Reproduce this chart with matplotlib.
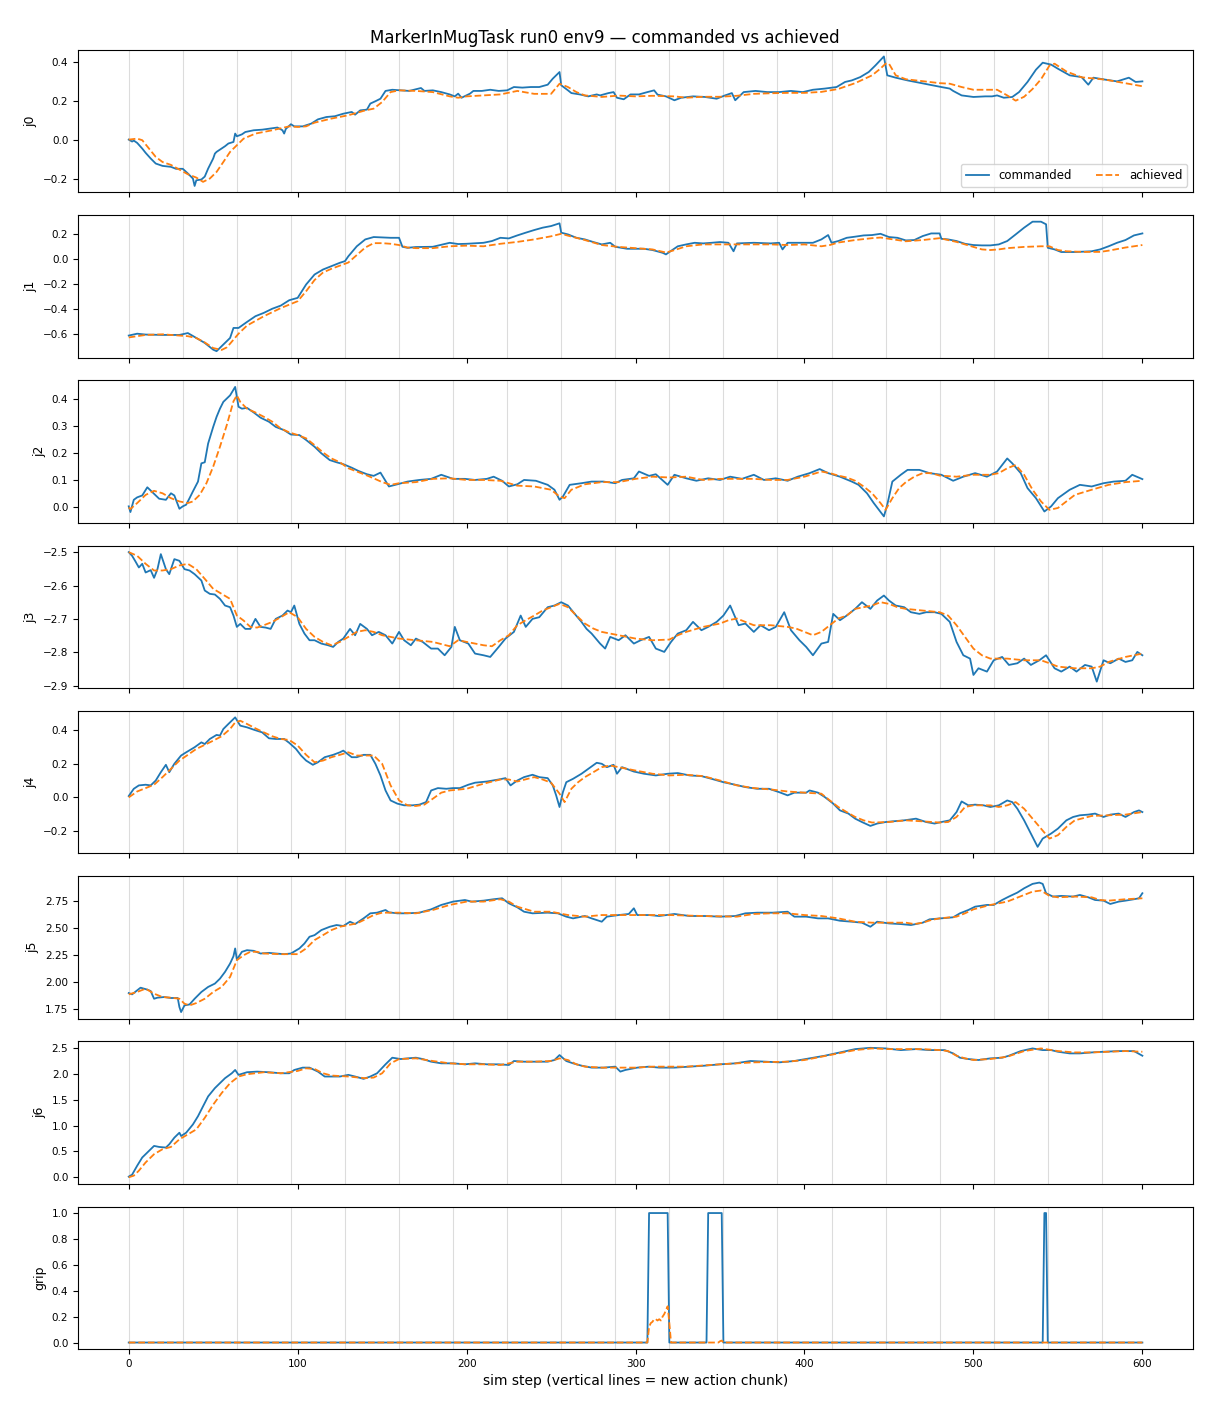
import matplotlib
matplotlib.use("Agg")
import matplotlib.pyplot as plt

# ---------------- data (step, value) ----------------
j0_cmd = [(0,0.0),(2,-0.01),(3,-0.005),(5,-0.017),(8,-0.046),(10,-0.068),(13,-0.097),(16,-0.123),
          (20,-0.135),(25,-0.14),(28,-0.15),(32,-0.15),(35,-0.174),(38,-0.2),(39,-0.238),(40,-0.209),
          (43,-0.205),(45,-0.19),(47,-0.149),(50,-0.097),(51,-0.072),(52,-0.063),(55,-0.046),(57,-0.034),
          (59,-0.02),(62,-0.012),(63,0.031),(64,0.017),(67,0.027),(69,0.039),(74,0.048),(79,0.051),
          (83,0.056),(88,0.062),(91,0.048),(92,0.031),(93,0.055),(96,0.079),(98,0.068),(103,0.068),
          (108,0.082),(112,0.104),(117,0.116),(122,0.12),(127,0.133),(132,0.142),(134,0.128),(137,0.15),
          (141,0.154),(143,0.185),(146,0.197),(149,0.21),(152,0.25),(156,0.256),(161,0.253),(166,0.25),
          (173,0.265),(175,0.25),(180,0.253),(185,0.244),(190,0.232),(193,0.222),(195,0.236),(197,0.215),
          (202,0.236),(204,0.25),(209,0.25),(214,0.256),(219,0.25),(224,0.253),(228,0.27),(233,0.267),
          (238,0.27),(243,0.27),(248,0.282),(251,0.313),(255,0.347),(256,0.279),(260,0.253),(262,0.239),
          (267,0.232),(272,0.222),(277,0.232),(279,0.227),(284,0.239),(287,0.244),(289,0.215),(293,0.207),
          (297,0.232),(302,0.232),(307,0.244),(311,0.253),(313,0.231),(318,0.222),(323,0.202),(327,0.215),
          (334,0.222),(341,0.219),(348,0.21),(353,0.227),(357,0.239),(359,0.202),(364,0.244),(371,0.25),
          (378,0.244),(385,0.244),(392,0.25),(399,0.244),(405,0.256),(412,0.262),(419,0.27),(424,0.296),
          (428,0.304),(433,0.321),(438,0.347),(442,0.381),(447,0.427),(449,0.33),(454,0.318),(461,0.304),
          (468,0.292),(474,0.282),(481,0.27),(486,0.262),(488,0.25),(493,0.227),(500,0.219),(507,0.222),
          (511,0.222),(514,0.227),(518,0.215),(523,0.219),(527,0.244),(532,0.296),(537,0.359),(541,0.395),
          (546,0.385),(550,0.364),(557,0.33),(564,0.321),(568,0.282),(571,0.318),(578,0.308),(585,0.299),
          (592,0.318),(596,0.296),(600,0.299)]
j0_ach = [(0,0.0),(5,0.005),(8,-0.003),(12,-0.046),(16,-0.089),(20,-0.115),(25,-0.13),(30,-0.154),
          (35,-0.178),(40,-0.195),(44,-0.217),(48,-0.2),(52,-0.166),(56,-0.115),(60,-0.063),(64,-0.029),
          (68,0.005),(75,0.031),(85,0.048),(95,0.068),(100,0.065),(105,0.068),(110,0.087),(120,0.108),
          (130,0.125),(140,0.15),(145,0.159),(150,0.193),(155,0.244),(160,0.253),(170,0.25),(180,0.244),
          (190,0.222),(195,0.215),(200,0.222),(210,0.227),(220,0.232),(230,0.25),(240,0.235),(250,0.235),
          (255,0.287),(260,0.27),(265,0.244),(270,0.227),(280,0.219),(290,0.226),(300,0.222),(310,0.225),
          (323,0.222),(330,0.215),(340,0.22),(350,0.22),(360,0.225),(370,0.235),(380,0.238),(390,0.24),
          (400,0.24),(410,0.245),(420,0.26),(430,0.29),(440,0.33),(445,0.365),(448,0.39),(450,0.39),
          (454,0.33),(460,0.31),(470,0.30),(480,0.29),(486,0.287),(493,0.27),(500,0.256),(514,0.256),
          (520,0.227),(525,0.20),(530,0.22),(535,0.26),(540,0.31),(545,0.38),(548,0.39),(555,0.35),
          (564,0.32),(578,0.308),(600,0.274)]

j1_cmd = [(0,-0.615),(5,-0.6),(10,-0.607),(20,-0.61),(30,-0.61),(35,-0.595),(40,-0.634),(45,-0.674),
          (50,-0.728),(52,-0.74),(55,-0.70),(60,-0.634),(62,-0.554),(65,-0.554),(70,-0.506),(75,-0.46),
          (80,-0.433),(85,-0.40),(90,-0.375),(95,-0.332),(100,-0.313),(105,-0.206),(110,-0.126),
          (115,-0.086),(120,-0.059),(125,-0.032),(128,-0.019),(130,0.02),(135,0.10),(140,0.155),
          (145,0.174),(150,0.171),(155,0.168),(160,0.168),(162,0.096),(165,0.088),(170,0.094),(180,0.096),
          (190,0.128),(195,0.118),(200,0.12),(210,0.128),(215,0.142),(220,0.168),(225,0.163),(230,0.187),
          (235,0.209),(240,0.23),(245,0.249),(250,0.262),(255,0.284),(256,0.209),(260,0.195),(265,0.168),
          (270,0.155),(275,0.134),(280,0.115),(285,0.128),(288,0.096),(295,0.08),(305,0.08),(310,0.07),
          (316,0.048),(318,0.035),(320,0.054),(325,0.10),(330,0.115),(335,0.128),(340,0.123),(345,0.128),
          (350,0.134),(355,0.128),(358,0.06),(360,0.123),(370,0.128),(380,0.123),(385,0.128),(387,0.075),
          (390,0.128),(400,0.128),(405,0.128),(410,0.155),(414,0.19),(416,0.128),(420,0.142),(425,0.168),
          (430,0.177),(435,0.187),(440,0.19),(445,0.20),(450,0.174),(455,0.168),(460,0.147),(465,0.15),
          (470,0.182),(475,0.203),(480,0.203),(481,0.16),(485,0.155),(490,0.142),(495,0.12),(500,0.11),
          (505,0.107),(510,0.107),(515,0.115),(520,0.142),(525,0.195),(530,0.249),(535,0.297),(540,0.297),
          (543,0.276),(544,0.088),(548,0.075),(552,0.054),(560,0.054),(570,0.06),(575,0.075),(580,0.10),
          (585,0.128),(590,0.15),(595,0.187),(600,0.203)]
j1_ach = [(0,-0.63),(10,-0.61),(20,-0.605),(30,-0.615),(35,-0.62),(40,-0.635),(45,-0.67),(50,-0.715),
          (55,-0.73),(58,-0.71),(60,-0.68),(65,-0.6),(70,-0.535),(80,-0.46),(90,-0.395),(100,-0.34),
          (105,-0.26),(110,-0.17),(115,-0.11),(120,-0.08),(125,-0.055),(130,-0.03),(135,0.03),(140,0.09),
          (145,0.125),(150,0.125),(155,0.12),(160,0.11),(165,0.09),(170,0.085),(180,0.085),(190,0.10),
          (200,0.105),(210,0.10),(220,0.12),(230,0.135),(240,0.155),(250,0.18),(256,0.2),(260,0.185),
          (270,0.15),(280,0.11),(290,0.095),(300,0.085),(310,0.075),(318,0.05),(322,0.065),(330,0.10),
          (340,0.115),(350,0.115),(360,0.115),(370,0.115),(380,0.115),(390,0.11),(400,0.115),(410,0.10),
          (415,0.11),(420,0.13),(430,0.15),(440,0.165),(445,0.17),(450,0.16),(460,0.14),(470,0.15),
          (480,0.165),(490,0.135),(500,0.095),(505,0.075),(510,0.07),(515,0.075),(520,0.085),(530,0.095),
          (540,0.10),(545,0.10),(550,0.07),(555,0.06),(565,0.055),(575,0.055),(580,0.065),(590,0.09),
          (600,0.11)]

j2_cmd = [(0,0.004),(1,-0.017),(3,0.028),(5,0.037),(8,0.044),(11,0.074),(14,0.056),(18,0.032),
          (22,0.028),(25,0.052),(27,0.044),(30,-0.005),(32,0.004),(34,0.01),(36,0.034),(38,0.059),
          (41,0.095),(43,0.162),(45,0.166),(47,0.235),(50,0.296),(52,0.333),(54,0.363),(56,0.388),
          (60,0.412),(63,0.443),(65,0.37),(67,0.363),(70,0.366),(74,0.349),(78,0.33),(83,0.315),(87,0.296),
          (92,0.284),(96,0.268),(101,0.266),(105,0.248),(110,0.223),(114,0.199),(119,0.174),(123,0.166),
          (127,0.159),(132,0.146),(136,0.134),(141,0.122),(145,0.116),(149,0.128),(154,0.077),(159,0.085),
          (165,0.095),(172,0.101),(179,0.105),(185,0.12),(192,0.105),(199,0.105),(205,0.101),(212,0.105),
          (216,0.113),(221,0.098),(225,0.077),(230,0.085),(234,0.101),(241,0.098),(248,0.083),(252,0.065),
          (255,0.028),(257,0.04),(261,0.083),(268,0.089),(274,0.095),(281,0.095),(288,0.089),(292,0.101),
          (299,0.107),(302,0.132),(308,0.116),(312,0.122),(319,0.083),(323,0.12),(330,0.107),(336,0.098),
          (343,0.107),(350,0.101),(356,0.113),(363,0.105),(370,0.12),(376,0.101),(383,0.107),(390,0.098),
          (396,0.113),(403,0.126),(409,0.141),(414,0.126),(421,0.113),(428,0.095),(432,0.083),(437,0.052),
          (441,0.016),(447,-0.033),(449,0.01),(452,0.095),(457,0.12),(461,0.138),(468,0.138),(474,0.126),
          (481,0.12),(488,0.098),(494,0.113),(501,0.126),(508,0.113),(514,0.132),(520,0.18),(523,0.162),
          (528,0.126),(532,0.071),(537,0.034),(542,-0.015),(546,0.004),(550,0.034),(557,0.065),(563,0.083),
          (570,0.077),(577,0.089),(583,0.095),(590,0.098),(594,0.12),(600,0.104)]
j2_ach = [(0,0.0),(1,-0.006),(5,0.016),(10,0.046),(15,0.061),(20,0.052),(25,0.034),(30,0.022),
          (35,0.016),(38,0.022),(42,0.046),(46,0.089),(50,0.15),(54,0.223),(58,0.302),(62,0.39),
          (64,0.412),(66,0.388),(70,0.363),(75,0.349),(80,0.333),(85,0.315),(90,0.29),(95,0.276),
          (100,0.266),(105,0.254),(110,0.229),(115,0.202),(120,0.18),(125,0.166),(130,0.144),(135,0.132),
          (140,0.12),(145,0.107),(150,0.093),(155,0.083),(160,0.089),(170,0.093),(180,0.105),(190,0.107),
          (200,0.101),(210,0.101),(220,0.098),(225,0.089),(230,0.08),(240,0.077),(250,0.065),(255,0.04),
          (258,0.034),(262,0.065),(270,0.085),(280,0.093),(290,0.093),(300,0.105),(310,0.113),(320,0.11),
          (330,0.113),(340,0.101),(350,0.105),(360,0.105),(370,0.105),(380,0.101),(390,0.101),(400,0.113),
          (410,0.132),(415,0.126),(420,0.117),(425,0.11),(430,0.098),(435,0.077),(440,0.052),(445,0.016),
          (448,-0.009),(452,0.034),(456,0.071),(460,0.093),(465,0.113),(470,0.126),(475,0.126),(480,0.117),
          (490,0.113),(500,0.12),(510,0.12),(515,0.126),(520,0.144),(525,0.156),(530,0.12),(535,0.065),
          (540,0.022),(545,-0.009),(550,-0.002),(555,0.022),(560,0.046),(570,0.065),(580,0.083),
          (590,0.093),(600,0.098)]

j3_cmd = [(0,-2.50),(2,-2.511),(4,-2.528),(6,-2.546),(8,-2.535),(10,-2.561),(13,-2.554),(15,-2.577),
          (17,-2.551),(19,-2.506),(22,-2.551),(24,-2.566),(27,-2.521),(30,-2.526),(33,-2.551),(36,-2.555),
          (39,-2.566),(43,-2.585),(45,-2.615),(48,-2.625),(51,-2.627),(54,-2.64),(57,-2.66),(60,-2.665),
          (62,-2.69),(64,-2.724),(66,-2.715),(69,-2.73),(72,-2.73),(75,-2.70),(78,-2.724),(81,-2.726),
          (84,-2.73),(87,-2.70),(91,-2.69),(94,-2.675),(96,-2.68),(98,-2.66),(101,-2.715),(104,-2.744),
          (107,-2.764),(110,-2.764),(114,-2.774),(118,-2.779),(121,-2.784),(124,-2.769),(127,-2.759),
          (131,-2.73),(134,-2.749),(137,-2.715),(141,-2.73),(144,-2.749),(148,-2.739),(152,-2.749),
          (156,-2.774),(160,-2.739),(163,-2.764),(167,-2.779),(170,-2.759),(174,-2.769),(179,-2.789),
          (183,-2.789),(187,-2.809),(191,-2.784),(193,-2.724),(196,-2.764),(201,-2.774),(205,-2.804),
          (210,-2.809),(214,-2.814),(219,-2.784),(223,-2.759),(228,-2.739),(232,-2.69),(235,-2.724),
          (239,-2.70),(243,-2.695),(248,-2.665),(252,-2.66),(256,-2.65),(260,-2.66),(264,-2.685),
          (268,-2.709),(271,-2.73),(274,-2.744),(279,-2.774),(282,-2.789),(285,-2.754),(290,-2.764),
          (294,-2.749),(299,-2.774),(303,-2.764),(308,-2.754),(312,-2.789),(317,-2.799),(321,-2.769),
          (325,-2.744),(330,-2.734),(334,-2.709),(339,-2.734),(343,-2.724),(348,-2.709),(352,-2.69),
          (356,-2.66),(361,-2.719),(365,-2.714),(370,-2.739),(374,-2.719),(379,-2.734),(383,-2.724),
          (388,-2.68),(392,-2.734),(397,-2.764),(401,-2.784),(405,-2.809),(410,-2.774),(414,-2.769),
          (417,-2.685),(421,-2.704),(425,-2.69),(430,-2.67),(434,-2.65),(439,-2.67),(443,-2.645),
          (447,-2.63),(450,-2.645),(454,-2.66),(459,-2.665),(463,-2.68),(468,-2.685),(472,-2.68),
          (477,-2.68),(481,-2.685),(486,-2.709),(490,-2.769),(494,-2.809),(498,-2.819),(500,-2.868),
          (503,-2.848),(508,-2.858),(512,-2.824),(517,-2.814),(521,-2.838),(526,-2.833),(530,-2.819),
          (534,-2.838),(539,-2.824),(543,-2.809),(548,-2.848),(552,-2.858),(557,-2.843),(561,-2.858),
          (566,-2.838),(570,-2.843),(573,-2.888),(577,-2.824),(581,-2.833),(586,-2.819),(590,-2.829),
          (594,-2.824),(597,-2.799),(600,-2.809)]
j3_ach = [(0,-2.50),(5,-2.511),(10,-2.535),(15,-2.555),(20,-2.555),(25,-2.551),(30,-2.54),(35,-2.535),
          (40,-2.551),(45,-2.58),(50,-2.61),(55,-2.625),(60,-2.64),(64,-2.69),(68,-2.705),(72,-2.724),
          (76,-2.726),(80,-2.719),(85,-2.709),(90,-2.695),(95,-2.68),(100,-2.695),(105,-2.73),(110,-2.754),
          (115,-2.769),(120,-2.779),(125,-2.769),(130,-2.754),(135,-2.739),(140,-2.734),(145,-2.739),
          (150,-2.749),(160,-2.759),(170,-2.764),(180,-2.769),(190,-2.782),(195,-2.764),(200,-2.769),
          (210,-2.779),(215,-2.782),(220,-2.764),(225,-2.749),(230,-2.719),(235,-2.704),(240,-2.69),
          (245,-2.675),(250,-2.665),(255,-2.655),(260,-2.665),(265,-2.69),(270,-2.714),(275,-2.729),
          (280,-2.739),(290,-2.749),(300,-2.759),(310,-2.764),(320,-2.762),(325,-2.749),(330,-2.739),
          (340,-2.724),(350,-2.714),(355,-2.704),(360,-2.699),(365,-2.709),(370,-2.719),(380,-2.719),
          (390,-2.724),(395,-2.729),(400,-2.739),(405,-2.749),(410,-2.739),(415,-2.719),(420,-2.699),
          (425,-2.69),(430,-2.67),(435,-2.665),(440,-2.66),(445,-2.65),(450,-2.655),(455,-2.665),
          (460,-2.67),(470,-2.675),(480,-2.68),(485,-2.69),(490,-2.719),(495,-2.754),(500,-2.789),
          (505,-2.809),(510,-2.819),(520,-2.819),(530,-2.824),(540,-2.824),(545,-2.833),(550,-2.843),
          (560,-2.848),(570,-2.848),(575,-2.843),(580,-2.829),(590,-2.814),(600,-2.804)]

j4_cmd = [(0,0.008),(3,0.051),(6,0.071),(10,0.075),(13,0.071),(16,0.10),(19,0.149),(22,0.193),
          (24,0.149),(27,0.199),(31,0.248),(34,0.267),(39,0.297),(43,0.326),(45,0.316),(48,0.346),
          (52,0.37),(54,0.366),(56,0.405),(59,0.435),(63,0.474),(66,0.425),(70,0.415),(74,0.401),
          (79,0.385),(83,0.35),(87,0.346),(92,0.346),(95,0.323),(99,0.287),(102,0.248),(105,0.218),
          (109,0.193),(112,0.208),(116,0.238),(121,0.252),(125,0.267),(127,0.277),(132,0.238),(135,0.238),
          (139,0.252),(143,0.252),(146,0.199),(149,0.13),(152,0.041),(155,-0.018),(159,-0.037),(163,-0.047),
          (168,-0.047),(172,-0.043),(176,-0.028),(179,0.041),(183,0.055),(188,0.051),(192,0.055),(196,0.055),
          (201,0.075),(205,0.087),(212,0.094),(219,0.106),(223,0.114),(226,0.071),(230,0.10),(234,0.12),
          (239,0.134),(243,0.12),(248,0.114),(251,0.071),(253,0.012),(255,-0.057),(257,0.031),(259,0.09),
          (263,0.11),(268,0.14),(272,0.169),(277,0.205),(280,0.199),(283,0.179),(287,0.193),(289,0.14),
          (292,0.179),(299,0.153),(305,0.14),(312,0.13),(319,0.14),(325,0.144),(332,0.13),(339,0.126),
          (345,0.11),(352,0.09),(359,0.075),(365,0.061),(372,0.051),(379,0.051),(385,0.031),(390,0.012),
          (394,0.028),(401,0.028),(403,0.041),(408,0.028),(412,0.002),(417,-0.037),(421,-0.077),
          (426,-0.096),(430,-0.126),(434,-0.146),(439,-0.169),(443,-0.155),(448,-0.146),(452,-0.142),
          (459,-0.136),(466,-0.126),(472,-0.146),(477,-0.155),(481,-0.146),(486,-0.136),(490,-0.087),
          (493,-0.024),(497,-0.047),(501,-0.043),(506,-0.047),(510,-0.057),(515,-0.047),(520,-0.018),
          (523,-0.028),(526,-0.067),(530,-0.136),(535,-0.234),(538,-0.293),(541,-0.244),(546,-0.214),
          (550,-0.185),(555,-0.136),(559,-0.116),(563,-0.106),(568,-0.102),(572,-0.096),(577,-0.116),
          (581,-0.102),(586,-0.096),(590,-0.116),(595,-0.087),(598,-0.077),(600,-0.087)]
j4_ach = [(0,0.0),(5,0.035),(10,0.055),(15,0.075),(20,0.12),(25,0.169),(30,0.218),(35,0.252),
          (40,0.287),(45,0.311),(50,0.336),(55,0.362),(60,0.405),(63,0.444),(66,0.454),(70,0.435),
          (75,0.409),(80,0.385),(85,0.362),(90,0.346),(95,0.34),(100,0.307),(105,0.252),(110,0.208),
          (115,0.218),(120,0.238),(125,0.252),(130,0.267),(135,0.248),(140,0.248),(145,0.248),(150,0.199),
          (155,0.071),(160,-0.018),(165,-0.047),(170,-0.051),(175,-0.043),(180,-0.008),(185,0.028),
          (190,0.041),(200,0.051),(210,0.081),(220,0.106),(225,0.106),(230,0.094),(240,0.12),(245,0.106),
          (250,0.087),(255,0.022),(258,-0.028),(262,0.051),(266,0.09),(270,0.12),(275,0.149),(280,0.179),
          (285,0.189),(290,0.179),(300,0.159),(310,0.14),(320,0.13),(330,0.134),(340,0.126),(350,0.10),
          (360,0.071),(370,0.055),(380,0.047),(390,0.035),(400,0.028),(410,0.022),(415,-0.018),
          (420,-0.057),(425,-0.087),(430,-0.116),(435,-0.136),(440,-0.149),(450,-0.146),(460,-0.136),
          (470,-0.142),(480,-0.149),(485,-0.146),(490,-0.116),(495,-0.057),(500,-0.047),(510,-0.047),
          (515,-0.057),(520,-0.047),(525,-0.028),(530,-0.067),(535,-0.126),(540,-0.185),(545,-0.244),
          (550,-0.224),(555,-0.175),(560,-0.136),(570,-0.11),(580,-0.106),(590,-0.102),(600,-0.087)]

j5_cmd = [(0,1.896),(2,1.884),(5,1.921),(7,1.946),(11,1.928),(13,1.915),(15,1.843),(17,1.853),
          (21,1.859),(25,1.85),(29,1.85),(30,1.766),(31,1.719),(33,1.781),(36,1.79),(39,1.843),(43,1.906),
          (47,1.953),(51,1.984),(54,2.03),(57,2.093),(60,2.171),(62,2.239),(63,2.311),(64,2.208),(67,2.28),
          (70,2.295),(74,2.289),(78,2.264),(83,2.27),(87,2.264),(92,2.258),(96,2.264),(101,2.311),
          (104,2.357),(107,2.42),(110,2.435),(114,2.482),(119,2.513),(123,2.529),(127,2.52),(131,2.56),
          (134,2.538),(139,2.591),(143,2.638),(147,2.644),(152,2.669),(154,2.647),(159,2.638),(165,2.638),
          (172,2.644),(179,2.675),(185,2.716),(192,2.747),(199,2.762),(203,2.747),(210,2.756),(216,2.769),
          (221,2.778),(225,2.731),(230,2.694),(234,2.653),(239,2.638),(248,2.644),(254,2.638),(259,2.607),
          (263,2.591),(270,2.613),(274,2.591),(280,2.56),(283,2.607),(290,2.622),(296,2.632),(299,2.685),
          (301,2.622),(308,2.622),(314,2.613),(323,2.632),(332,2.613),(341,2.613),(350,2.607),(359,2.613),
          (365,2.638),(372,2.644),(381,2.644),(390,2.653),(394,2.607),(401,2.607),(408,2.591),(414,2.591),
          (421,2.569),(428,2.56),(434,2.551),(439,2.513),(443,2.56),(450,2.544),(457,2.538),(463,2.529),
          (470,2.551),(474,2.582),(481,2.591),(488,2.601),(492,2.638),(497,2.669),(501,2.70),(508,2.716),
          (512,2.716),(517,2.762),(521,2.794),(526,2.831),(530,2.871),(535,2.912),(539,2.924),(541,2.912),
          (543,2.825),(547,2.794),(552,2.80),(559,2.794),(563,2.809),(568,2.787),(572,2.762),(577,2.756),
          (581,2.725),(586,2.747),(590,2.756),(595,2.769),(598,2.778),(600,2.825)]
j5_ach = [(0,1.884),(5,1.906),(10,1.937),(15,1.89),(20,1.859),(25,1.853),(30,1.843),(33,1.797),
          (36,1.781),(40,1.803),(45,1.843),(50,1.906),(55,1.953),(60,2.046),(64,2.202),(68,2.248),
          (72,2.28),(76,2.28),(80,2.264),(90,2.258),(100,2.258),(105,2.311),(110,2.389),(115,2.435),
          (120,2.482),(125,2.513),(130,2.529),(135,2.544),(140,2.582),(145,2.622),(150,2.644),(160,2.644),
          (170,2.638),(180,2.669),(190,2.716),(200,2.747),(210,2.747),(220,2.769),(225,2.747),(230,2.70),
          (240,2.653),(250,2.653),(260,2.622),(270,2.607),(280,2.622),(290,2.622),(300,2.622),(320,2.622),
          (340,2.613),(360,2.607),(370,2.632),(380,2.638),(390,2.638),(400,2.622),(410,2.613),(420,2.591),
          (430,2.56),(440,2.551),(450,2.551),(460,2.551),(465,2.538),(470,2.551),(475,2.576),(480,2.591),
          (490,2.607),(495,2.638),(500,2.675),(510,2.716),(520,2.747),(530,2.809),(535,2.84),(540,2.85),
          (545,2.80),(550,2.787),(560,2.794),(570,2.787),(575,2.762),(580,2.756),(590,2.769),(600,2.778)]

j6_cmd = [(0,0.013),(2,0.051),(5,0.224),(8,0.383),(12,0.511),(15,0.607),(18,0.587),(22,0.575),
          (24,0.639),(27,0.766),(30,0.862),(31,0.798),(34,0.862),(38,1.022),(41,1.181),(44,1.373),
          (47,1.564),(51,1.724),(54,1.82),(57,1.916),(61,2.011),(63,2.075),(65,1.98),(70,2.031),(76,2.043),
          (83,2.031),(90,2.011),(95,2.011),(98,2.075),(103,2.12),(107,2.12),(112,2.043),(116,1.948),
          (121,1.948),(125,1.948),(130,1.98),(134,1.948),(139,1.903),(143,1.948),(147,2.011),(152,2.184),
          (156,2.312),(161,2.286),(165,2.299),(170,2.312),(174,2.286),(179,2.235),(185,2.203),(192,2.203),
          (199,2.184),(205,2.203),(212,2.184),(219,2.184),(225,2.171),(228,2.248),(234,2.235),(241,2.235),
          (248,2.235),(252,2.267),(255,2.363),(259,2.248),(263,2.203),(268,2.158),(274,2.12),(281,2.12),
          (288,2.139),(291,2.043),(294,2.075),(301,2.12),(308,2.139),(314,2.12),(323,2.12),(332,2.139),
          (341,2.158),(350,2.184),(359,2.203),(368,2.248),(377,2.235),(385,2.222),(394,2.248),(403,2.299),
          (412,2.35),(421,2.414),(430,2.478),(439,2.503),(448,2.491),(457,2.459),(466,2.478),(474,2.459),
          (483,2.459),(488,2.395),(492,2.312),(497,2.286),(503,2.267),(510,2.299),(517,2.312),(521,2.35),
          (528,2.44),(535,2.491),(541,2.459),(546,2.459),(550,2.427),(557,2.395),(563,2.395),(570,2.414),
          (577,2.427),(586,2.44),(595,2.44),(600,2.35)]
j6_ach = [(0,0.0),(3,0.032),(6,0.128),(10,0.287),(15,0.447),(20,0.543),(25,0.587),(30,0.734),
          (35,0.83),(40,0.926),(45,1.149),(50,1.405),(55,1.628),(60,1.82),(65,1.948),(70,1.992),
          (80,2.031),(90,2.011),(100,2.056),(105,2.107),(110,2.094),(115,2.011),(120,1.967),(130,1.948),
          (140,1.916),(145,1.928),(150,2.011),(155,2.203),(160,2.286),(170,2.299),(180,2.248),(190,2.203),
          (200,2.184),(210,2.184),(220,2.171),(225,2.203),(230,2.235),(240,2.235),(250,2.248),(255,2.299),
          (260,2.267),(265,2.184),(270,2.139),(280,2.12),(290,2.12),(300,2.12),(310,2.139),(330,2.139),
          (350,2.184),(370,2.222),(390,2.235),(400,2.267),(410,2.331),(420,2.395),(430,2.459),(440,2.491),
          (450,2.478),(460,2.478),(470,2.478),(480,2.459),(485,2.44),(490,2.35),(495,2.299),(500,2.267),
          (510,2.286),(520,2.331),(530,2.44),(540,2.491),(550,2.44),(560,2.414),(570,2.414),(580,2.427),
          (590,2.44),(600,2.427)]

grip_cmd = [(0,0),(307,0),(308,1),(319,1),(320,0),(342,0),(343,1),(351,1),(352,0),
            (541,0),(542,1),(543,1),(544,0),(600,0)]
grip_ach = [(0,0),(307,0),(308,0.12),(309,0.15),(310,0.16),(311,0.18),(312,0.18),(313,0.17),
            (314,0.18),(315,0.17),(316,0.2),(317,0.22),(318,0.25),(319,0.28),(320,0.15),(321,0),
            (349,0),(350,0.01),(351,0.015),(352,0),(600,0)]

panel_labels = ["j0", "j1", "j2", "j3", "j4", "j5", "j6", "grip"]
commanded = [j0_cmd, j1_cmd, j2_cmd, j3_cmd, j4_cmd, j5_cmd, j6_cmd, grip_cmd]
achieved = [j0_ach, j1_ach, j2_ach, j3_ach, j4_ach, j5_ach, j6_ach, grip_ach]
chunk_starts = list(range(0, 600, 32))

title = "MarkerInMugTask run0 env9 \u2014 commanded vs achieved"
xlabel = "sim step (vertical lines = new action chunk)"

# ---------------- figure ----------------
fig, axes = plt.subplots(8, 1, figsize=(12.1, 14.08), dpi=100, sharex=True)
fig.subplots_adjust(left=0.0645, right=0.986, top=0.9645, bottom=0.0419, hspace=0.16)

for ax, lab, cmd, ach in zip(axes, panel_labels, commanded, achieved):
    for s in chunk_starts:
        ax.axvline(s, color="#dcdcdc", lw=0.8, zorder=0)
    cx, cy = zip(*cmd)
    axx, ayy = zip(*ach)
    ax.plot(cx, cy, color="#1f77b4", lw=1.3, label="commanded")
    ax.plot(axx, ayy, color="#ff7f0e", lw=1.3, ls="--", label="achieved")
    ax.set_ylabel(lab, fontsize=9)
    ax.tick_params(labelsize=7.5)

axes[0].legend(loc="lower right", ncol=2, fontsize=8.5)
axes[-1].set_xlabel(xlabel, fontsize=10)
fig.suptitle(title, fontsize=12, y=0.9795)

fig.savefig("out.png", dpi=100)
